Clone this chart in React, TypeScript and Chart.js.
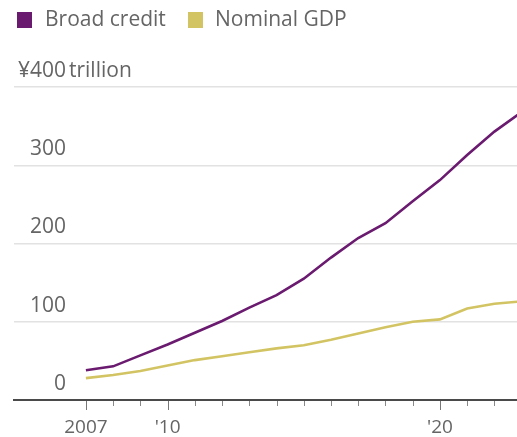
import React, { useEffect, useRef } from "react";
import { Chart, registerables } from "chart.js";

Chart.register(...registerables);

const years = [2007, 2008, 2009, 2010, 2011, 2012, 2013, 2014, 2015, 2016, 2017, 2018, 2019, 2020, 2021, 2022, 2023];
const broadCredit = [38, 43, 57, 71, 86, 101, 118, 134, 155, 182, 207, 226, 254, 281, 313, 343, 368];
const nominalGDP = [28, 32, 37, 44, 51, 56, 61, 66, 70, 77, 85, 93, 100, 103, 117, 123, 126];
const tickYears = [2007, 2008, 2009, 2010, 2011, 2012, 2013, 2014, 2015, 2016, 2017, 2018, 2019, 2020, 2021, 2022];
const majorYears: Record<number, string> = { 2007: "2007", 2010: "'10", 2020: "'20" };
const yTicks = [0, 100, 200, 300, 400];
const seriesNames = ["Broad credit", "Nominal GDP"];
const seriesColors = ["#6a1a6f", "#d3c463"];

const FONT = "'Open Sans', Roboto, sans-serif";
const TEXT = "#656565";

const overlay = {
  id: "overlay",
  afterDraw(chart: any) {
    const ctx = chart.ctx;
    const x = chart.scales.x;
    const y = chart.scales.y;
    const area = chart.chartArea;
    ctx.save();
    // tick marks
    tickYears.forEach((yr) => {
      const px = Math.round(x.getPixelForValue(yr)) + 0.5;
      const major = majorYears[yr] !== undefined;
      ctx.strokeStyle = major ? "#777" : "#888";
      ctx.lineWidth = 1;
      ctx.beginPath();
      ctx.moveTo(px, area.bottom + 1);
      ctx.lineTo(px, area.bottom + (major ? 10 : 6));
      ctx.stroke();
    });
    // y labels
    ctx.fillStyle = TEXT;
    ctx.font = `21px ${FONT}`;
    ctx.textBaseline = "middle";
    yTicks.forEach((v) => {
      const py = y.getPixelForValue(v) - 16;
      ctx.textAlign = "right";
      ctx.fillText(v === 400 ? "¥400" : String(v), 66, py);
      if (v === 400) {
        ctx.textAlign = "left";
        ctx.fillText("trillion", 69, py);
      }
    });
    // legend
    const items = [
      { x: 17, tx: 45 },
      { x: 188, tx: 215 },
    ];
    chart.data.datasets.forEach((ds: any, i: number) => {
      ctx.fillStyle = ds.borderColor;
      ctx.fillRect(items[i].x, 12, 15, 16);
      ctx.fillStyle = TEXT;
      ctx.textAlign = "left";
      ctx.font = `21px ${FONT}`;
      ctx.fillText(ds.label, items[i].tx, 20);
    });
    ctx.restore();
  },
};

export default function App() {
  const ref = useRef<HTMLCanvasElement>(null);
  useEffect(() => {
    document.body.style.margin = "0";
    const chart = new Chart(ref.current!, {
      type: "line",
      data: {
        datasets: [
          {
            label: seriesNames[0],
            data: years.map((yr, i) => ({ x: yr, y: broadCredit[i] })),
            borderColor: seriesColors[0],
            borderWidth: 2.6,
            pointRadius: 0,
            tension: 0,
          },
          {
            label: seriesNames[1],
            data: years.map((yr, i) => ({ x: yr, y: nominalGDP[i] })),
            borderColor: seriesColors[1],
            borderWidth: 2.6,
            pointRadius: 0,
            tension: 0,
          },
        ],
      },
      options: {
        animation: false,
        responsive: false,
        events: [],
        layout: { padding: { left: 14, right: 0, top: 87, bottom: 0 } },
        plugins: { legend: { display: false }, tooltip: { enabled: false } },
        scales: {
          x: {
            type: "linear",
            min: 2004.36,
            max: 2022.83,
            afterBuildTicks: (s: any) => {
              s.ticks = tickYears.map((v) => ({ value: v }));
            },
            afterFit: (s: any) => {
              s.height = 37;
            },
            grid: { drawOnChartArea: false, drawTicks: false },
            border: { display: true, color: "#4a4a4a", width: 2 },
            ticks: {
              autoSkip: false,
              maxRotation: 0,
              padding: 16,
              color: TEXT,
              font: { family: FONT, size: 19 },
              callback: (v: any) => majorYears[v as number] ?? "",
            },
          },
          y: {
            min: 0,
            max: 400,
            ticks: { display: false, stepSize: 100 },
            grid: { color: "#e2e2e2", lineWidth: 1.5, drawTicks: false },
            border: { display: false },
          },
        },
      },
      plugins: [overlay],
    });
    return () => chart.destroy();
  }, []);
  return (
    <div style={{ width: 517, height: 437 }}>
      <canvas ref={ref} width={517} height={437} />
    </div>
  );
}
